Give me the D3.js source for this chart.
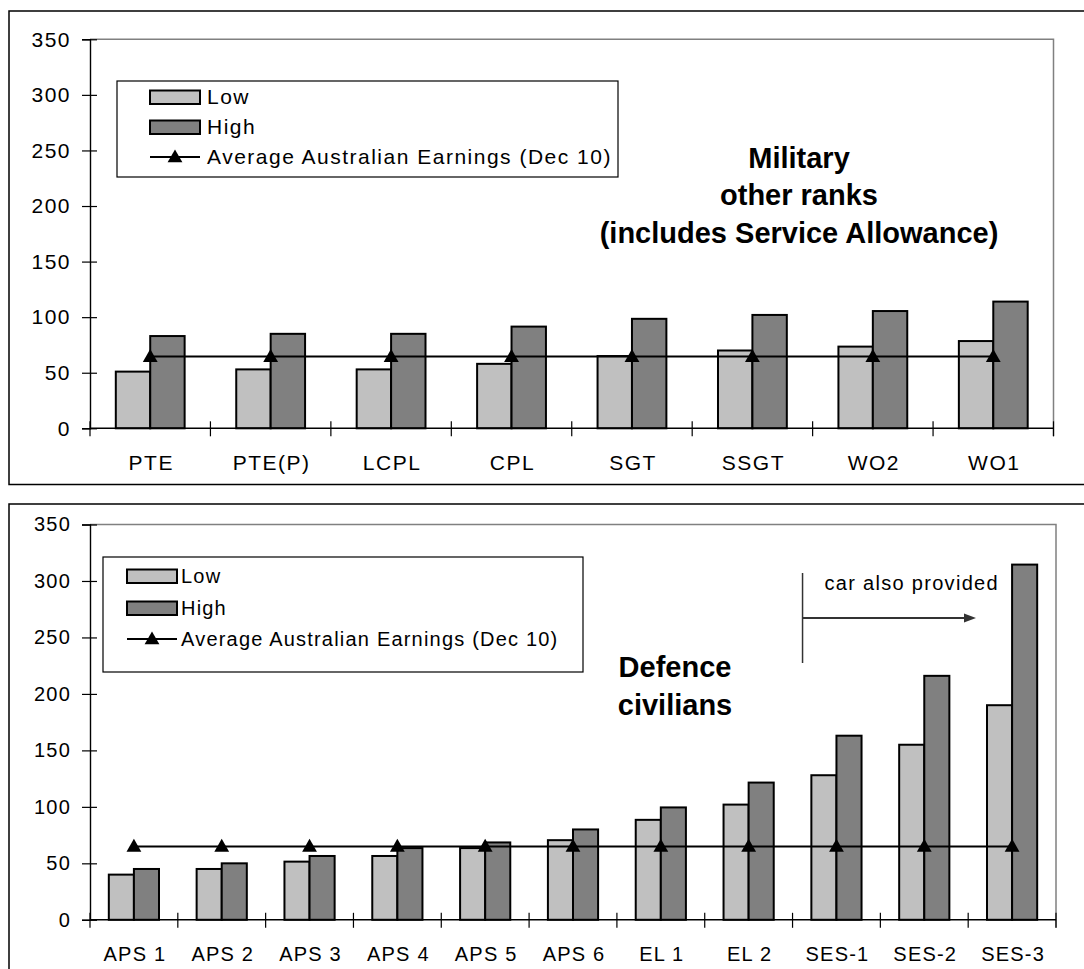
<!DOCTYPE html>
<html>
<head>
<meta charset="utf-8">
<script src="https://cdn.jsdelivr.net/npm/d3@7"></script>
<style>
  body { margin: 0; background: #fff; }
  svg { display: block; font-family: "Liberation Sans", Arial, sans-serif; }
  .lbl { fill: #000; }
</style>
</head>
<body>
<svg width="1084" height="969"></svg>
<script>
const svg = d3.select('svg');

// ---- data ----
const yTicks = [0, 50, 100, 150, 200, 250, 300, 350];

const militaryRanks = ['PTE', 'PTE(P)', 'LCPL', 'CPL', 'SGT', 'SSGT', 'WO2', 'WO1'];
const militaryLow = [51, 53, 53, 58, 65, 70, 73.5, 78.5];
const militaryHigh = [83, 85, 85, 91.5, 98.5, 102, 105.5, 114];
const militaryAvg = [64.5, 64.5, 64.5, 64.5, 64.5, 64.5, 64.5, 64.5];

const civilianLevels = ['APS 1', 'APS 2', 'APS 3', 'APS 4', 'APS 5', 'APS 6', 'EL 1', 'EL 2', 'SES-1', 'SES-2', 'SES-3'];
const civilianLow = [40, 45, 51.5, 56.5, 63.5, 70.5, 88.5, 102, 128, 155, 190];
const civilianHigh = [45, 50, 56.5, 63.5, 68.5, 80, 99.5, 121.5, 163, 216, 314.5];
const civilianAvg = [65, 65, 65, 65, 65, 65, 65, 65, 65, 65, 65];

const legendLabels = ['Low', 'High', 'Average Australian Earnings (Dec 10)'];
const lowColor = '#c0c0c0';
const highColor = '#808080';

const triangle = d3.symbol().type(d3.symbolTriangle).size(95);

const drawPanel = cfg => {
    const g = svg.append('g');
    const txt = sel => sel.attr('class', 'lbl')
        .style('font-size', cfg.fs + 'px')
        .style('letter-spacing', cfg.ls + 'px');

    // outer chart frame (runs off the picture on the right)
    g.append('rect')
        .attr('x', cfg.frame[0]).attr('y', cfg.frame[1])
        .attr('width', cfg.frame[2]).attr('height', cfg.frame[3])
        .attr('fill', 'none').attr('stroke', '#000').attr('stroke-width', 1.5);

    const xScale = d3.scaleBand()
        .domain(cfg.cats)
        .range([cfg.left, cfg.right]);

    const sub = d3.scaleBand()
        .domain(['low', 'high'])
        .range([0, xScale.bandwidth()])
        .paddingInner(0)
        .paddingOuter(0.75);

    const yScale = d3.scaleLinear()
        .domain([0, 350])
        .range([cfg.bottom, cfg.top]);

    // plot area border top / right
    g.append('path')
        .attr('d', `M${cfg.left},${cfg.top}H${cfg.right}V${cfg.bottom + 8}`)
        .attr('fill', 'none').attr('stroke', '#808080').attr('stroke-width', 1.5);

    // y axis
    const yAxis = g.append('g')
        .attr('transform', `translate(${cfg.left},0)`)
        .call(d3.axisLeft(yScale).tickValues(yTicks).tickSize(8).tickPadding(11));
    yAxis.select('.domain').attr('stroke', '#000').attr('stroke-width', 1.4);
    yAxis.selectAll('.tick line').attr('x1', 7).attr('stroke', '#000').attr('stroke-width', 1.2);
    yAxis.selectAll('.tick text').call(txt);

    // bars
    const rows = cfg.cats.map((c, i) => ({ cat: c, low: cfg.low[i], high: cfg.high[i], avg: cfg.avg[i] }));
    const groups = g.selectAll('g.cat').data(rows).enter().append('g')
        .attr('class', 'cat')
        .attr('transform', d => `translate(${xScale(d.cat)},0)`);

    groups.append('rect')
        .attr('x', sub('low'))
        .attr('y', d => yScale(d.low))
        .attr('width', sub.bandwidth())
        .attr('height', d => yScale(0) - yScale(d.low))
        .attr('fill', lowColor).attr('stroke', '#000').attr('stroke-width', 2);

    groups.append('rect')
        .attr('x', sub('high'))
        .attr('y', d => yScale(d.high))
        .attr('width', sub.bandwidth())
        .attr('height', d => yScale(0) - yScale(d.high))
        .attr('fill', highColor).attr('stroke', '#000').attr('stroke-width', 2);

    // x axis line + boundary ticks
    g.append('line')
        .attr('x1', cfg.left).attr('x2', cfg.right)
        .attr('y1', cfg.bottom).attr('y2', cfg.bottom)
        .attr('stroke', '#000').attr('stroke-width', 1.4);
    const bounds = cfg.cats.map(c => xScale(c)).concat([cfg.right]);
    g.selectAll('line.xt').data(bounds).enter().append('line')
        .attr('x1', d => d).attr('x2', d => d)
        .attr('y1', cfg.bottom - 7).attr('y2', cfg.bottom + 8)
        .attr('stroke', '#000').attr('stroke-width', 1.2);

    g.selectAll('text.xl').data(cfg.cats).enter().append('text')
        .call(txt)
        .attr('x', d => xScale(d) + xScale.bandwidth() / 2 + 1)
        .attr('y', cfg.bottom + 41.5)
        .attr('text-anchor', 'middle')
        .text(d => d);

    // average line with triangle markers
    const line = d3.line()
        .x(d => xScale(d.cat) + xScale.bandwidth() / 2)
        .y(d => yScale(d.avg));
    g.append('path').datum(rows)
        .attr('d', line)
        .attr('fill', 'none').attr('stroke', '#000').attr('stroke-width', 2);
    g.selectAll('path.mk').data(rows).enter().append('path')
        .attr('class', 'mk')
        .attr('d', triangle)
        .attr('transform', d => `translate(${xScale(d.cat) + xScale.bandwidth() / 2},${yScale(d.avg) + 1})`)
        .attr('fill', '#000');

    // legend
    const L = cfg.legend;
    const lg = g.append('g');
    lg.append('rect')
        .attr('x', L.x).attr('y', L.y).attr('width', L.w).attr('height', L.h)
        .attr('fill', '#fff').attr('stroke', '#000').attr('stroke-width', 1.2);
    [lowColor, highColor].forEach((col, i) => {
        lg.append('rect')
            .attr('x', L.sx).attr('y', L.rows[i] - 13.5)
            .attr('width', 50).attr('height', 13.5)
            .attr('fill', col).attr('stroke', '#000').attr('stroke-width', 2);
    });
    lg.append('line')
        .attr('x1', L.sx).attr('x2', L.sx + 50)
        .attr('y1', L.rows[2] - 5).attr('y2', L.rows[2] - 5)
        .attr('stroke', '#000').attr('stroke-width', 2);
    lg.append('path')
        .attr('d', triangle)
        .attr('transform', `translate(${L.sx + 25},${L.rows[2] - 4})`);
    legendLabels.forEach((t, i) => {
        lg.append('text')
            .call(txt)
            .attr('x', L.sx + 50 + L.gap)
            .attr('y', L.rows[i] + (i === 2 ? 2 : 0))
            .text(t);
    });

    // title
    g.selectAll('text.title').data(cfg.title).enter().append('text')
        .attr('x', cfg.titleX)
        .attr('y', (d, i) => cfg.titleY + i * 37.5)
        .attr('text-anchor', 'middle')
        .attr('font-size', 29)
        .attr('font-weight', 'bold')
        .text(d => d);

    return xScale;
};

drawPanel({
    frame: [9, 11, 1090, 473.5],
    cats: militaryRanks, low: militaryLow, high: militaryHigh, avg: militaryAvg,
    left: 90, right: 1053.5, top: 39.3, bottom: 428.3,
    fs: 21, ls: 1.5,
    legend: { x: 117, y: 81, w: 501, h: 96, sx: 150, gap: 7, rows: [104, 134, 162] },
    title: ['Military', 'other ranks', '(includes Service Allowance)'],
    titleX: 799, titleY: 167.5
});

const xCiv = drawPanel({
    frame: [9, 504, 1090, 480],
    cats: civilianLevels, low: civilianLow, high: civilianHigh, avg: civilianAvg,
    left: 90, right: 1056, top: 524.5, bottom: 919.8,
    fs: 20, ls: 1.2,
    legend: { x: 103, y: 557, w: 480, h: 115, sx: 127, gap: 4, rows: [583, 615, 644] },
    title: ['Defence', 'civilians'],
    titleX: 675, titleY: 677
});

// "car also provided" annotation starting at SES-1
const ax = xCiv('SES-1') + 10;
const ann = svg.append('g');
ann.append('line')
    .attr('x1', ax).attr('x2', ax).attr('y1', 573).attr('y2', 663)
    .attr('stroke', '#333').attr('stroke-width', 1.5);
ann.append('line')
    .attr('x1', ax).attr('x2', 966).attr('y1', 618).attr('y2', 618)
    .attr('stroke', '#333').attr('stroke-width', 1.8);
ann.append('path')
    .attr('d', 'M964,613.5L976,618L964,622.5Z')
    .attr('fill', '#333');
ann.append('text')
    .attr('class', 'lbl')
    .attr('x', ax + 22).attr('y', 590)
    .style('font-size', '20px').style('letter-spacing', '1.3px')
    .text('car also provided');
</script>
</body>
</html>
